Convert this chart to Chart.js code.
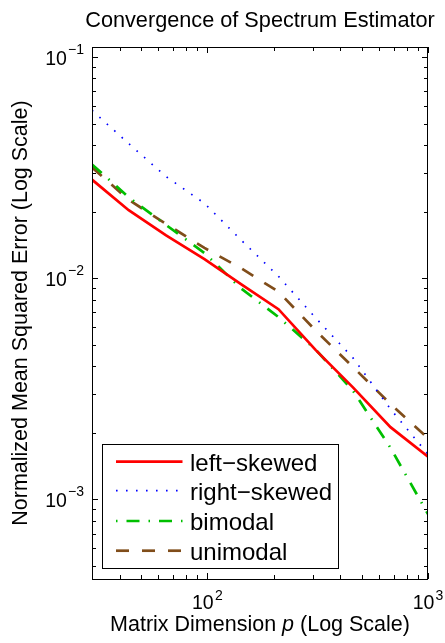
<!DOCTYPE html>
<html>
<head>
<meta charset="utf-8">
<script src="https://cdn.jsdelivr.net/npm/chart.js@4.4.1/dist/chart.umd.min.js"></script>
<style>
  html, body { margin: 0; padding: 0; background: #fff; }
  canvas { display: block; }
</style>
</head>
<body>
<canvas id="chart" width="445" height="643"></canvas>
<script>
// ── Data ──────────────────────────────────────────────────────────────────
const pDims       = [30, 44, 65, 97, 142, 210, 310, 458, 676, 1000];
const leftSkewed  = [0.0279, 0.0203, 0.0156, 0.0122, 0.0094, 0.00724, 0.00473, 0.0032, 0.00212, 0.00156];
const rightSkewed = [0.0574, 0.0406, 0.0288, 0.0218, 0.0149, 0.0102, 0.0066, 0.00435, 0.00256, 0.0016];
const bimodal     = [0.0327, 0.0232, 0.0174, 0.0130, 0.0090, 0.00667, 0.00475, 0.00309, 0.00171, 0.000858];
const unimodal    = [0.0317, 0.0226, 0.0176, 0.0137, 0.0111, 0.00869, 0.00579, 0.00396, 0.0027, 0.00189];

const seriesNames = ['left\u2212skewed', 'right\u2212skewed', 'bimodal', 'unimodal'];
const yDecades    = [-1, -2, -3];
const xDecades    = [2, 3];

const Y_MIN = 4.364e-4, Y_MAX = 0.111;
const X_MIN = 30, X_MAX = 1000;

// ── Styles ────────────────────────────────────────────────────────────────
const FONT = "'Liberation Sans', Arial, Helvetica, sans-serif";
const STYLES = [
  { color: '#ff0000', width: 2.7, dash: [],              offset: 0 },
  { color: '#0000ff', width: 1.7, dash: [1.6, 8.4],      offset: 0 },
  { color: '#00bf00', width: 2.7, dash: [13, 9, 1.5, 9], offset: 22 },
  { color: '#804d1a', width: 2.7, dash: [13, 13],        offset: 0 },
];

function toPoints(ys) {
  return pDims.map((x, i) => ({ x, y: ys[i] }));
}

const seriesData = [leftSkewed, rightSkewed, bimodal, unimodal];

// ── Helpers ───────────────────────────────────────────────────────────────
function line(ctx, x1, y1, x2, y2) {
  ctx.beginPath();
  ctx.moveTo(x1, y1);
  ctx.lineTo(x2, y2);
  ctx.stroke();
}

// "10" with a raised exponent; align = 'right' | 'center'
function drawPower(ctx, exp, x, tickY, baseDy, expDy, align) {
  const base = '10';
  const sup = exp < 0 ? '\u2212' + Math.abs(exp) : String(exp);
  ctx.font = '19.5px ' + FONT;
  const wb = ctx.measureText(base).width;
  ctx.font = '14px ' + FONT;
  const we = ctx.measureText(sup).width;
  const gap = 1.2;
  const total = wb + gap + we;
  const left = align === 'right' ? x - total : x - total / 2;
  ctx.textAlign = 'left';
  ctx.textBaseline = 'alphabetic';
  ctx.font = '19.5px ' + FONT;
  ctx.fillText(base, left, tickY + baseDy);
  ctx.font = '14px ' + FONT;
  ctx.fillText(sup, left + wb + gap, tickY + expDy);
}

// ── Frame, ticks, labels and legend ───────────────────────────────────────
const framePlugin = {
  id: 'frame',
  afterDraw(chart) {
    const ctx = chart.ctx;
    const { left: L, right: R, top: T, bottom: B } = chart.chartArea;
    const xs = chart.scales.x, ys = chart.scales.y;
    ctx.save();
    ctx.strokeStyle = '#000';
    ctx.fillStyle = '#000';
    ctx.lineWidth = 1;

    // y ticks
    for (let d = -4; d <= -1; d++) {
      for (let m = 1; m <= 9; m++) {
        const v = m * Math.pow(10, d);
        if (v < Y_MIN || v > Y_MAX) continue;
        const py = Math.round(ys.getPixelForValue(v)) + 0.5;
        const len = m === 1 ? 6 : 4;
        line(ctx, L, py, L + len, py);
        line(ctx, R, py, R - len, py);
      }
    }
    // x ticks
    for (let d = 1; d <= 3; d++) {
      for (let m = 1; m <= 9; m++) {
        const v = m * Math.pow(10, d);
        if (v < X_MIN || v > X_MAX) continue;
        const px = Math.round(xs.getPixelForValue(v)) + 0.5;
        const len = m === 1 ? 6 : 4;
        line(ctx, px, B, px, B - len);
        line(ctx, px, T, px, T + len);
      }
    }
    // box
    ctx.strokeRect(Math.round(L) + 0.5, Math.round(T) + 0.5, Math.round(R - L) - 1, Math.round(B - T));

    // tick labels
    yDecades.forEach(e => {
      const py = ys.getPixelForValue(Math.pow(10, e));
      drawPower(ctx, e, 84, py, 7.6, -3.3, 'right');
    });
    xDecades.forEach(e => {
      const px = xs.getPixelForValue(Math.pow(10, e));
      drawPower(ctx, e, px, B, 30.3, 21, 'center');
    });

    // title
    ctx.textAlign = 'center';
    ctx.textBaseline = 'alphabetic';
    ctx.font = '21.7px ' + FONT;
    ctx.fillText('Convergence of Spectrum Estimator', (L + R) / 2, 26.7);

    // x axis title with italic p
    const parts = [['Matrix Dimension ', ''], ['p', 'italic '], [' (Log Scale)', '']];
    let tw = 0;
    parts.forEach(([s, st]) => { ctx.font = st + '21.5px ' + FONT; tw += ctx.measureText(s).width; });
    let cx = (L + R) / 2 - tw / 2;
    ctx.textAlign = 'left';
    parts.forEach(([s, st]) => {
      ctx.font = st + '21.5px ' + FONT;
      ctx.fillText(s, cx, 631);
      cx += ctx.measureText(s).width;
    });

    // y axis title
    ctx.save();
    ctx.translate(27, (T + B) / 2);
    ctx.rotate(-Math.PI / 2);
    ctx.textAlign = 'center';
    ctx.font = '21.5px ' + FONT;
    ctx.fillText('Normalized Mean Squared Error (Log Scale)', 0, 0);
    ctx.restore();

    // legend
    const lx = 102.5, ly = 444.5, lw = 236, lh = 124;
    ctx.fillStyle = '#fff';
    ctx.fillRect(lx, ly, lw, lh);
    ctx.strokeStyle = '#000';
    ctx.lineWidth = 1;
    ctx.strokeRect(lx, ly, lw, lh);
    const rows = [461.7, 490.7, 521, 550.7];
    seriesNames.forEach((name, i) => {
      const st = STYLES[i];
      ctx.save();
      ctx.strokeStyle = st.color;
      ctx.lineWidth = st.width;
      ctx.setLineDash(st.dash);
      ctx.lineDashOffset = st.offset;
      line(ctx, 116, rows[i], 182.5, rows[i]);
      ctx.restore();
      ctx.fillStyle = '#000';
      ctx.font = '24px ' + FONT;
      ctx.textAlign = 'left';
      ctx.textBaseline = 'alphabetic';
      ctx.fillText(name, 190, rows[i] + 9);
    });
    ctx.restore();
  }
};

// ── Chart ─────────────────────────────────────────────────────────────────
const datasets = seriesData.map((ys, i) => ({
  label: seriesNames[i],
  data: toPoints(ys),
  borderColor: STYLES[i].color,
  borderWidth: STYLES[i].width,
  borderDash: STYLES[i].dash,
  borderCapStyle: 'butt',
  pointRadius: 0,
  tension: 0,
  fill: false,
}));

new Chart(document.getElementById('chart').getContext('2d'), {
  type: 'line',
  data: { datasets },
  options: {
    responsive: false,
    animation: false,
    layout: { padding: { left: 92, top: 47, right: 17, bottom: 64 } },
    plugins: { legend: { display: false }, tooltip: { enabled: false }, title: { display: false } },
    scales: {
      x: { type: 'logarithmic', min: X_MIN, max: X_MAX, display: false },
      y: { type: 'logarithmic', min: Y_MIN, max: Y_MAX, display: false },
    },
  },
  plugins: [framePlugin],
});
</script>
</body>
</html>
